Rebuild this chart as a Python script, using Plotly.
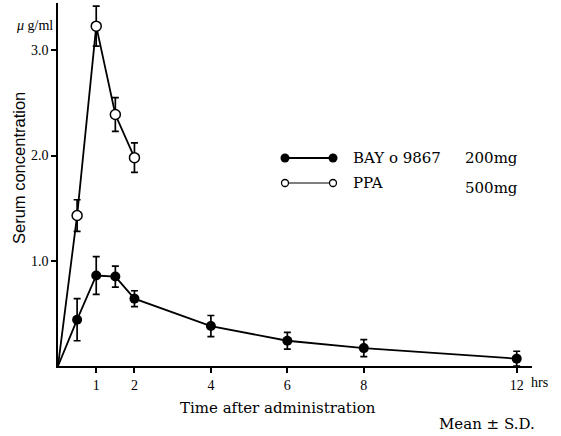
import plotly.graph_objects as go

# Data
bay_t = [0.5, 1, 1.5, 2, 4, 6, 8, 12]
bay_mean = [0.44, 0.86, 0.85, 0.64, 0.38, 0.24, 0.17, 0.07]
bay_sd = [0.20, 0.18, 0.10, 0.075, 0.10, 0.08, 0.08, 0.07]

ppa_t = [0.5, 1, 1.5, 2]
ppa_mean = [1.43, 3.23, 2.39, 1.98]
ppa_sd = [0.15, 0.19, 0.16, 0.14]

x_ticks = [1, 2, 4, 6, 8, 12]
y_ticks = [1.0, 2.0, 3.0]
y_ticklabels = ["1.0", "2.0", "3.0"]

SERIF = "Liberation Serif, Times New Roman, serif"
WSERIF = "DejaVu Serif, serif"
SANS = "Liberation Sans, Arial, sans-serif"

W, H = 561, 436
L, R, T, B = 58, 29, 3, 70
PW, PH = W - L - R, H - T - B

fig = go.Figure()

# connecting lines from origin
fig.add_trace(go.Scatter(x=[0] + ppa_t, y=[0] + ppa_mean, mode="lines",
                         line=dict(color="black", width=1.8), showlegend=False,
                         hoverinfo="skip"))
fig.add_trace(go.Scatter(x=[0] + bay_t, y=[0] + bay_mean, mode="lines",
                         line=dict(color="black", width=1.8), showlegend=False,
                         hoverinfo="skip"))

# markers with error bars
fig.add_trace(go.Scatter(x=ppa_t, y=ppa_mean, mode="markers", name="PPA",
                         marker=dict(symbol="circle", size=10, color="white",
                                     line=dict(color="black", width=1.5)),
                         error_y=dict(type="data", array=ppa_sd, color="black",
                                      thickness=1.7, width=3.5),
                         showlegend=False))
fig.add_trace(go.Scatter(x=bay_t, y=bay_mean, mode="markers", name="BAY o 9867",
                         marker=dict(symbol="circle", size=10, color="black"),
                         error_y=dict(type="data", array=bay_sd, color="black",
                                      thickness=1.7, width=3.5),
                         showlegend=False))

# custom legend on a pixel-coordinate overlay axis
fig.add_trace(go.Scatter(x=[285, 333], y=[158, 158], mode="lines+markers",
                         line=dict(color="black", width=1.8),
                         marker=dict(size=9, color="black"),
                         xaxis="x2", yaxis="y2", showlegend=False, hoverinfo="skip"))
fig.add_trace(go.Scatter(x=[285, 333], y=[183, 183], mode="lines+markers",
                         line=dict(color="black", width=1.2),
                         marker=dict(size=7, color="white", line=dict(color="black", width=1.3)),
                         xaxis="x2", yaxis="y2", showlegend=False, hoverinfo="skip"))

fig.update_layout(
    width=W, height=H,
    margin=dict(l=L, r=R, t=T, b=B),
    paper_bgcolor="white", plot_bgcolor="white",
    showlegend=False,
    xaxis=dict(range=[0, 12.4], tickvals=x_ticks, ticktext=[str(v) for v in x_ticks],
               showgrid=False, zeroline=False, showline=True, linecolor="black",
               linewidth=1.5, ticks="outside", ticklen=5, tickwidth=1.5,
               tickcolor="black", tickfont=dict(family=SERIF, size=14, color="black")),
    yaxis=dict(range=[0, 3.45], tickvals=y_ticks, ticktext=y_ticklabels,
               showgrid=False, zeroline=False, showline=True, linecolor="black",
               linewidth=1.5, ticks="outside", ticklen=5, tickwidth=1.5,
               tickcolor="black", tickfont=dict(family=SERIF, size=14, color="black")),
    xaxis2=dict(range=[L, W - R], overlaying="x", visible=False),
    yaxis2=dict(range=[H - B, T], overlaying="y", visible=False),
    font=dict(family=SERIF, color="black"),
)


def px2paper(px, py):
    return (px - L) / PW, (H - B - py) / PH


annos = [
    dict(text="<i>μ</i> g/ml", x=34, y=26, font=dict(family=SERIF, size=14)),
    dict(text="Serum concentration", x=19, y=168, textangle=-90, font=dict(family=SANS, size=16.5)),
    dict(text="hrs", x=539, y=382, font=dict(family=SERIF, size=14)),
    dict(text="Time after administration", x=278, y=408, font=dict(family=WSERIF, size=15)),
    dict(text="Mean ± S.D.", x=487, y=424, font=dict(family=WSERIF, size=15)),
    dict(text="BAY o 9867", x=351, y=158, xanchor="left", font=dict(family=WSERIF, size=15)),
    dict(text="200mg", x=463, y=158, xanchor="left", font=dict(family=WSERIF, size=15)),
    dict(text="PPA", x=351, y=183, xanchor="left", font=dict(family=WSERIF, size=15)),
    dict(text="500mg", x=463, y=188, xanchor="left", font=dict(family=WSERIF, size=15)),
]
for a in annos:
    a.setdefault("xanchor", "center")
    a["x"], a["y"] = px2paper(a["x"], a["y"])
    fig.add_annotation(xref="paper", yref="paper", showarrow=False, yanchor="middle", **a)

fig.write_html("out.html", config={"displayModeBar": False},
               post_script="document.body.style.margin='0';")
